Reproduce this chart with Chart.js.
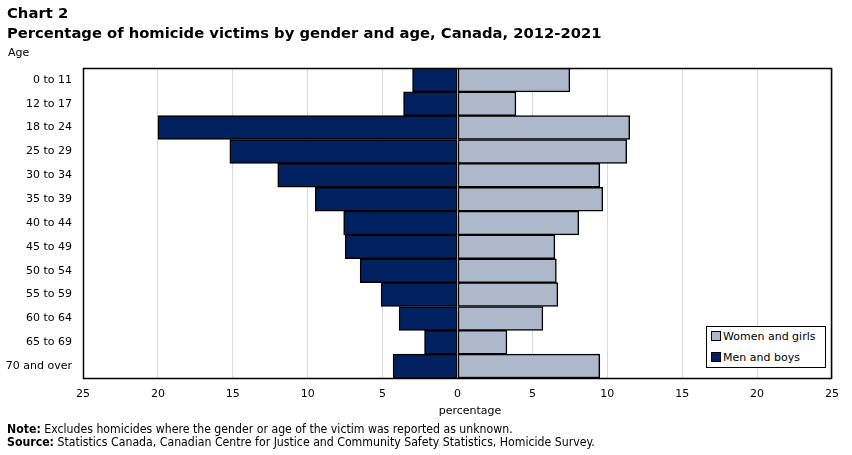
<!DOCTYPE html>
<html>
<head>
<meta charset="utf-8">
<script src="https://cdn.jsdelivr.net/npm/chart.js@4.4.0/dist/chart.umd.min.js"></script>
<style>
  body { margin: 0; background: #fff; }
  #wrap { position: relative; width: 852px; height: 455px; font-family: "DejaVu Sans", Verdana, sans-serif; color: #000; }
  #wrap canvas { position: absolute; left: 0; top: 0; }
  .t { position: absolute; white-space: nowrap; }
  #chartNo { left: 7px; top: 4px; font-size: 14.8px; font-weight: bold; }
  #title { left: 7px; top: 24px; font-size: 14.75px; font-weight: bold; }
  #age { left: 8px; top: 46px; font-size: 11px; }
  #xtitle { left: 470px; top: 404px; font-size: 11px; transform: translateX(-50%); }
  .foot { left: 7px; font-size: 12.2px; font-family: "DejaVu Sans Condensed", "DejaVu Sans", sans-serif; font-stretch: condensed; }
  #note { top: 422px; }
  #source { top: 435px; }
  #legend { position: absolute; left: 706px; top: 326px; width: 120px; height: 42px; border: 1px solid #000; background: #fff; font-size: 11px; box-sizing: border-box; }
  .li { position: absolute; left: 4px; white-space: nowrap; }
  .sw { display: inline-block; width: 8px; height: 8px; border: 1px solid #000; margin-right: 2px; vertical-align: -1px; }
</style>
</head>
<body>
<div id="wrap">
  <canvas id="myChart" width="852" height="455"></canvas>
  <div class="t" id="chartNo">Chart 2</div>
  <div class="t" id="title">Percentage of homicide victims by gender and age, Canada, 2012-2021</div>
  <div class="t" id="age">Age</div>
  <div class="t" id="xtitle">percentage</div>
  <div class="t foot" id="note"><b>Note:</b> Excludes homicides where the gender or age of the victim was reported as unknown.</div>
  <div class="t foot" id="source"><b>Source:</b> Statistics Canada, Canadian Centre for Justice and Community Safety Statistics, Homicide Survey.</div>
  <div id="legend"></div>
</div>
<script>
const ageGroups = ['0 to 11', '12 to 17', '18 to 24', '25 to 29', '30 to 34', '35 to 39', '40 to 44',
  '45 to 49', '50 to 54', '55 to 59', '60 to 64', '65 to 69', '70 and over'];
const womenAndGirls = [7.5, 3.9, 11.5, 11.3, 9.5, 9.7, 8.1, 6.5, 6.6, 6.7, 5.7, 3.3, 9.5];
const menAndBoys = [3.0, 3.6, 20.0, 15.2, 12.0, 9.5, 7.6, 7.5, 6.5, 5.1, 3.9, 2.2, 4.3];
const seriesNames = ['Women and girls', 'Men and boys'];
const seriesColors = ['#adb9ca', '#002060'];

// frame round the plot area
const frame = {
  id: 'frame',
  afterDatasetsDraw(chart) {
    const a = chart.chartArea, ctx = chart.ctx;
    ctx.save();
    ctx.strokeStyle = '#000';
    ctx.lineWidth = 1.5;
    ctx.strokeRect(Math.round(a.left) + 0.5, Math.round(a.top) + 0.5,
      Math.round(a.right - a.left) - 1, Math.round(a.bottom - a.top));
    ctx.restore();
  }
};

const ctx = document.getElementById('myChart');
const chart = new Chart(ctx, {
  type: 'bar',
  data: {
    labels: ageGroups,
    datasets: [
      { label: seriesNames[1], data: menAndBoys.map(v => -v), backgroundColor: seriesColors[1],
        borderColor: '#000', borderWidth: 1.5, borderSkipped: false },
      { label: seriesNames[0], data: womenAndGirls, backgroundColor: seriesColors[0],
        borderColor: '#000', borderWidth: 1.5, borderSkipped: false }
    ]
  },
  options: {
    indexAxis: 'y',
    responsive: false,
    animation: false,
    events: [],
    layout: { padding: { top: 68, right: 20, left: 0, bottom: 0 } },
    datasets: { bar: { barPercentage: 1, categoryPercentage: 1 } },
    plugins: { legend: { display: false }, tooltip: { enabled: false } },
    scales: {
      x: {
        stacked: true,
        min: -25, max: 25,
        ticks: { stepSize: 5, color: '#000', font: { family: 'DejaVu Sans', size: 11 }, padding: 10,
          callback: v => Math.abs(v) },
        grid: { color: '#d9d9d9', drawTicks: false },
        border: { display: false },
        afterFit: s => { s.height = 455 - 378; }
      },
      y: {
        stacked: true,
        ticks: { color: '#000', font: { family: 'DejaVu Sans', size: 11 }, padding: 11 },
        grid: { display: false, drawTicks: false },
        border: { display: false },
        afterFit: s => { s.width = 83; }
      }
    }
  },
  plugins: [frame]
});

// legend box
const legend = document.getElementById('legend');
seriesNames.forEach((name, i) => {
  const row = document.createElement('div');
  row.className = 'li';
  row.style.top = (i === 0 ? 3 : 24) + 'px';
  row.innerHTML = '<span class="sw" style="background:' + seriesColors[i] + '"></span>' + name;
  legend.appendChild(row);
});
</script>
</body>
</html>
